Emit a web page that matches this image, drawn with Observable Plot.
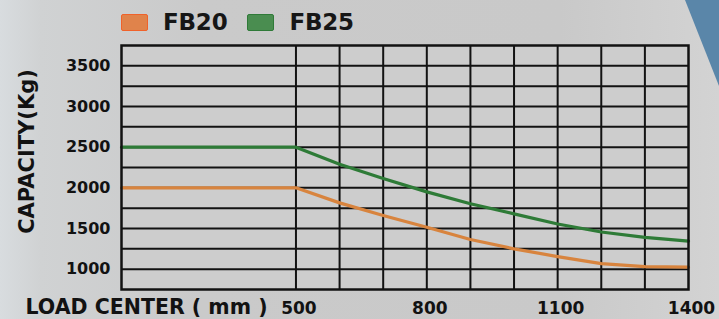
<!DOCTYPE html>
<html>
<head>
<meta charset="utf-8">
<script src="https://cdn.jsdelivr.net/npm/d3@7"></script>
<script src="https://cdn.jsdelivr.net/npm/@observablehq/plot@0.6"></script>
<style>
  html, body { margin: 0; padding: 0; }
  body {
    width: 719px; height: 319px; overflow: hidden; position: relative;
    background: linear-gradient(90deg, #d8dcdf 0px, #d0d2d3 40px, #cacaca 200px, #c9c9c9 560px, #d3d3d3 719px);
    font-family: "DejaVu Sans", sans-serif;
  }
  #deco {
    position: absolute; left: 0; top: 0; width: 719px; height: 319px;
    background: #5a86a9;
    clip-path: polygon(685px 0px, 719px 0px, 719px 86px);
  }
  #legend {
    position: relative; height: 40px; box-sizing: border-box;
    padding-top: 11px; padding-left: 121px;
    display: flex; align-items: flex-start;
  }
  .item { display: flex; align-items: center; height: 23px; }
  .sw { width: 27px; height: 17px; border-radius: 2px; margin-right: 15px; box-sizing: border-box; border: 1px solid; }
  .lab { font: bold 23px/23px "DejaVu Sans"; color: #161616; margin-right: 20px; letter-spacing: -0.2px; }
  #chart { position: relative; }
  #chart svg { display: block; }
</style>
</head>
<body>
<div id="deco"></div>
<div id="legend"></div>
<div id="chart"></div>
<script>
// ---- data ----
const loadCenter = [100, 500, 600, 700, 800, 900, 1000, 1100, 1200, 1300, 1400];
const fb20 = [2000, 2000, 1815, 1660, 1515, 1365, 1250, 1155, 1068, 1032, 1025];
const fb25 = [2500, 2500, 2290, 2115, 1950, 1805, 1680, 1555, 1457, 1390, 1345];
const seriesNames = ["FB20", "FB25"];
const seriesColors = ["#d8843e", "#2e7b37"];
const swatchFill = ["#e0834b", "#4a8d50"];
const swatchBorder = ["#f0622a", "#2f7a38"];
const xTickLabels = [500, 800, 1100, 1400];
const yTickLabels = [1000, 1500, 2000, 2500, 3000, 3500];
const xGridLines = [500, 600, 700, 800, 900, 1000, 1100, 1200, 1300];
const yGridLines = [1000, 1250, 1500, 1750, 2000, 2250, 2500, 2750, 3000, 3250, 3500];
const yAxisTitle = "CAPACITY(Kg)";
const xAxisTitle = "LOAD CENTER ( mm )";

// ---- legend ----
const legend = document.getElementById("legend");
seriesNames.forEach((name, i) => {
  const item = document.createElement("div");
  item.className = "item";
  const sw = document.createElement("div");
  sw.className = "sw";
  sw.style.background = swatchFill[i];
  sw.style.borderColor = swatchBorder[i];
  const lab = document.createElement("span");
  lab.className = "lab";
  lab.textContent = name;
  item.appendChild(sw); item.appendChild(lab);
  legend.appendChild(item);
});

// ---- table ----
const rows = [];
loadCenter.forEach((x, i) => {
  rows.push({x, y: fb20[i], s: seriesNames[0]});
  rows.push({x, y: fb25[i], s: seriesNames[1]});
});

const ink = "#121212";
const chart = Plot.plot({
  width: 719,
  height: 279,
  marginLeft: 121,
  marginRight: 31,
  marginTop: 5,
  marginBottom: 30,
  x: {domain: [100, 1400]},
  y: {domain: [750, 3750]},
  color: {domain: seriesNames, range: seriesColors},
  style: {background: "transparent", fontFamily: "DejaVu Sans", color: ink, overflow: "visible"},
  marks: [
    Plot.frame({fill: "#cdcdcd", stroke: null}),
    Plot.gridX(xGridLines, {stroke: ink, strokeOpacity: 1, strokeWidth: 2}),
    Plot.gridY(yGridLines, {stroke: ink, strokeOpacity: 1, strokeWidth: 2}),
    Plot.line(rows, {x: "x", y: "y", z: "s", stroke: "s", strokeWidth: 3.2, strokeLinejoin: "round"}),
    Plot.frame({stroke: ink, strokeWidth: 2.5}),
    Plot.axisX(xTickLabels, {tickSize: 0, tickPadding: 12, dx: 3, fontSize: 17, fontWeight: "bold", label: null, tickFormat: d => `${d}`}),
    Plot.axisY(yTickLabels, {tickSize: 0, tickPadding: 11, fontSize: 16, fontWeight: "bold", label: null, tickFormat: d => `${d}`}),
    Plot.text([yAxisTitle], {text: d => d, frameAnchor: "left", textAnchor: "middle", lineAnchor: "middle", rotate: -90, dx: -94, dy: -16, fontSize: 21, fontWeight: "bold", fill: ink}),
    Plot.text([xAxisTitle], {text: d => d, frameAnchor: "bottom-left", textAnchor: "start", lineAnchor: "middle", dx: -96, dy: 18, fontSize: 20.5, fontWeight: "bold", fill: ink})
  ]
});
document.getElementById("chart").appendChild(chart);
</script>
</body>
</html>
